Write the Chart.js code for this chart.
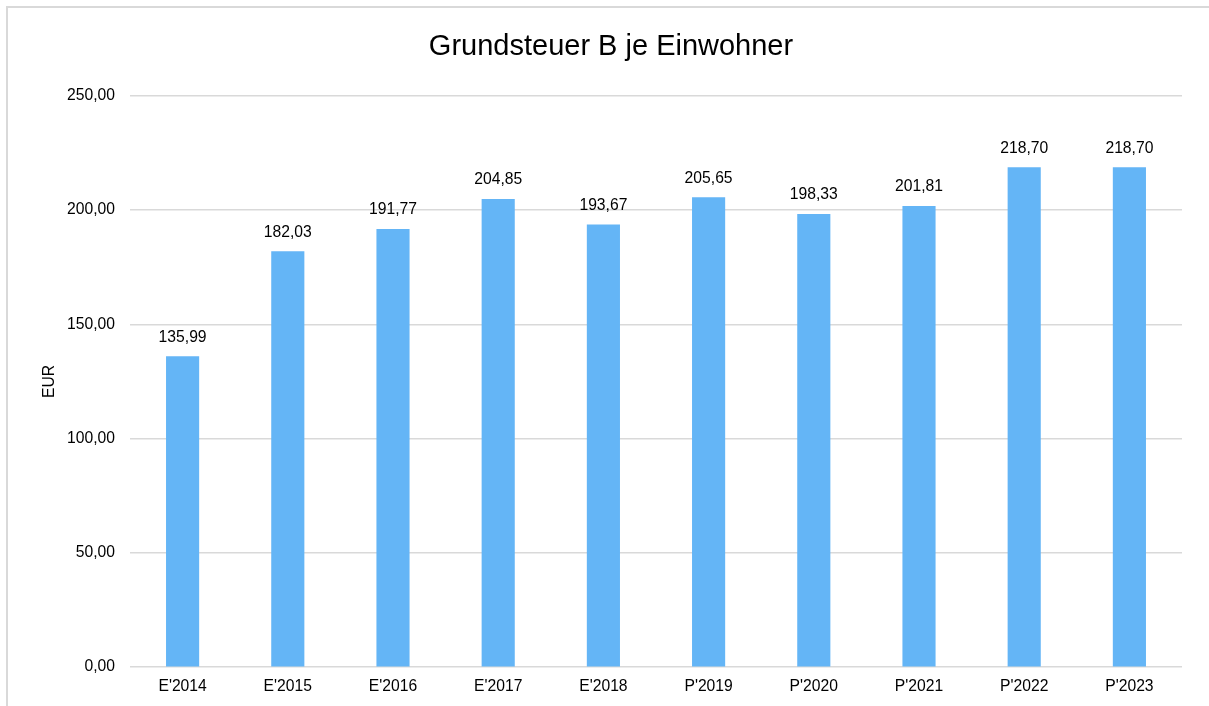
<!DOCTYPE html>
<html>
<head>
<meta charset="utf-8">
<script src="https://cdn.jsdelivr.net/npm/chart.js@4.4.1/dist/chart.umd.min.js"></script>
<style>
  html, body { margin: 0; padding: 0; background: #fff; }
  #wrap { position: relative; width: 1209px; height: 706px; }
  #frame { position: absolute; left: 6px; top: 6px; right: 0; bottom: 0;
           border-left: 2px solid #d9d9d9; border-top: 2px solid #d9d9d9; pointer-events: none; }
  canvas { position: absolute; left: 0; top: 0; }
</style>
</head>
<body>
<div id="wrap">
  <canvas id="myChart" width="1209" height="706"></canvas>
  <div id="frame"></div>
</div>
<script>
var categories = ["E'2014", "E'2015", "E'2016", "E'2017", "E'2018", "P'2019", "P'2020", "P'2021", "P'2022", "P'2023"];
var values = [135.99, 182.03, 191.77, 204.85, 193.67, 205.65, 198.33, 201.81, 218.70, 218.70];
var yTicks = [0, 50, 100, 150, 200, 250];

var fontFamily = "'Liberation Sans', Arial, sans-serif";
var barColor = "#64b5f6";

function formatDe(num) {
  return num.toFixed(2).replace(".", ",");
}

// draws the value above each bar
var valueLabels = {
  id: "valueLabels",
  afterDatasetsDraw: function (chart) {
    var ctx = chart.ctx;
    var meta = chart.getDatasetMeta(0);
    ctx.save();
    ctx.font = "15.7px " + fontFamily;
    ctx.fillStyle = "#000";
    ctx.textAlign = "center";
    ctx.textBaseline = "bottom";
    meta.data.forEach(function (bar, i) {
      ctx.fillText(formatDe(values[i]), bar.x, bar.y - 11);
    });
    ctx.restore();
  }
};

var chartContext = document.getElementById("myChart").getContext("2d");
var chart = new Chart(chartContext, {
  type: "bar",
  data: {
    labels: categories,
    datasets: [
      {
        data: values,
        backgroundColor: barColor,
        borderWidth: 0,
        barPercentage: 0.63,
        categoryPercentage: 0.5
      }
    ]
  },
  options: {
    responsive: false,
    animation: false,
    layout: { padding: { left: 40, right: 27, top: 14, bottom: 0 } },
    plugins: {
      legend: { display: false },
      tooltip: { enabled: false },
      title: {
        display: true,
        text: "Grundsteuer B je Einwohner",
        color: "#000",
        font: { family: fontFamily, size: 29, weight: "normal" },
        padding: { top: 16, bottom: 31 }
      }
    },
    scales: {
      x: {
        grid: { display: false, drawTicks: false },
        border: { display: false },
        ticks: {
          color: "#000",
          font: { family: fontFamily, size: 15.7 },
          padding: 10,
          maxRotation: 0
        }
      },
      y: {
        min: 0,
        max: 250,
        afterBuildTicks: function (scale) {
          scale.ticks = yTicks.map(function (v) { return { value: v }; });
        },
        afterFit: function (scale) {
          scale.width = 90;
        },
        grid: { color: "#d9d9d9", lineWidth: 1.5, drawTicks: false },
        border: { display: false },
        title: {
          display: true,
          text: "EUR",
          color: "#000",
          font: { family: fontFamily, size: 15.7 },
          padding: { top: 0, bottom: 0 }
        },
        ticks: {
          color: "#000",
          font: { family: fontFamily, size: 15.7 },
          padding: 15,
          callback: function (v) { return formatDe(v); }
        }
      }
    }
  },
  plugins: [valueLabels]
});
</script>
</body>
</html>
